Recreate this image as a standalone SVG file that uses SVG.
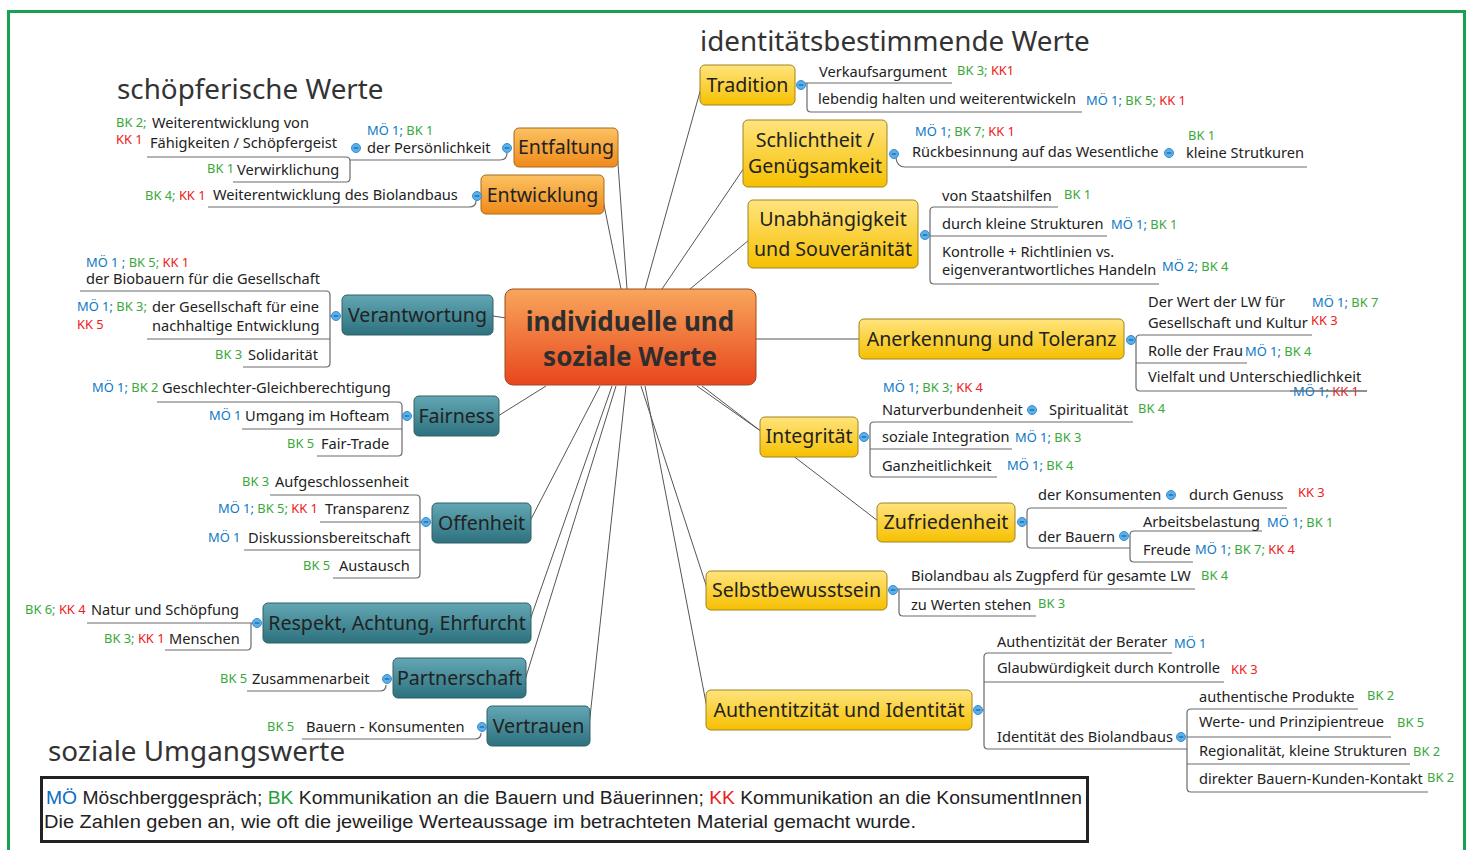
<svg xmlns="http://www.w3.org/2000/svg" width="1472" height="850" viewBox="0 0 1472 850">
<style>
.t{font-family:"Noto Sans",sans-serif;font-size:14.6px;fill:#222}
.l{font-family:"Noto Sans",sans-serif;font-size:12.9px}
.b{fill:#0a78c8}.g{fill:#3aa83a}.r{fill:#ee2020}
.n{font-family:"Noto Sans",sans-serif;font-size:19.6px;fill:#222;text-anchor:middle}
.h{font-family:"Noto Sans",sans-serif;font-size:27.8px;fill:#333}
.ln{fill:none;stroke:#6a6a6a;stroke-width:1.2}
.cn{fill:none;stroke:#555;stroke-width:1}
.yb{fill:url(#gy);stroke:#a08420;stroke-width:1}
.tb{fill:url(#gt);stroke:#355f66;stroke-width:1}
.ob{fill:url(#go);stroke:#a86a20;stroke-width:1}
.lg{font-family:"Liberation Sans",Arial,sans-serif;font-size:19.2px;fill:#222}
</style>
<defs>
<linearGradient id="gy" x1="0" y1="0" x2="0" y2="1"><stop offset="0" stop-color="#ffe47e"/><stop offset="1" stop-color="#f6c000"/></linearGradient>
<linearGradient id="gt" x1="0" y1="0" x2="0" y2="1"><stop offset="0" stop-color="#62a7b3"/><stop offset="1" stop-color="#2c717d"/></linearGradient>
<linearGradient id="go" x1="0" y1="0" x2="0" y2="1"><stop offset="0" stop-color="#fcc262"/><stop offset="1" stop-color="#ef8a1a"/></linearGradient>
<linearGradient id="gc" x1="0" y1="0" x2="0" y2="1"><stop offset="0" stop-color="#f8a65c"/><stop offset="1" stop-color="#e8461c"/></linearGradient>
<g id="dot"><circle r="4.5" fill="#5ab0ea" stroke="#3a8ccc" stroke-width="1"/><path d="M-2.3,0H2.3" stroke="#1d5f9c" stroke-width="1.2"/></g>
</defs>
<rect x="8.5" y="11.5" width="1456" height="860" fill="#fff" stroke="#1aa050" stroke-width="3"/>

<g id="titles">
<text class="h" x="700" y="51">identitätsbestimmende Werte</text>
<text class="h" x="117" y="99">schöpferische Werte</text>
<text class="h" x="48" y="761">soziale Umgangswerte</text>
</g>

<g id="connectors">
<path class="cn" d="M627,289L617,150M621,289L603,200M645,289L701,88M662,289L744,168M690,289L749,240M493,316L506,318M756,339L860,339M546,386L498,416M697,386L762,432M702,386L878,521M600,386L530,521M612,386L530,620M616,386L525,680M626,386L589,726M641,386L707,588M645,386L707,708"/>
<path class="ln" d="M147,157H346Q350,157 350,161V178Q350,182 346,182H233M350,160H500Q507,160 507,153"/>
<path class="ln" d="M208,207H469Q476,207 476,201"/>
<path class="ln" d="M80,291H326Q330,291 330,295V363Q330,367 326,367H243M147,339H330M330,316H333"/>
<path class="ln" d="M157,402H398Q402,402 402,406V452Q402,456 398,456H317M242,429H402M402,416H404"/>
<path class="ln" d="M270,495H416Q420,495 420,499V574Q420,578 416,578H333M320,522H422M244,550H420"/>
<path class="ln" d="M87,623H253M251,623V646Q251,650 247,650H165"/>
<path class="ln" d="M247,691H380Q386,691 386,685"/>
<path class="ln" d="M302,739H475Q481,739 481,733"/>
<path class="ln" d="M805,83H952M807,83V108Q807,112 811,112H1082"/>
<path class="ln" d="M896,158Q897,167 905,167H1307"/>
<path class="ln" d="M1058,207H934Q930,207 930,211V280Q930,284 934,284H1159M930,236H1107M926,235H930"/>
<path class="ln" d="M1312,335H1140Q1136,335 1136,339V387Q1136,391 1140,391H1367M1136,363H1247"/>
<path class="ln" d="M1133,422H874Q870,422 870,426V473Q870,477 874,477H997M870,449H1012"/>
<path class="ln" d="M1287,508H1031Q1027,508 1027,512V544Q1027,548 1031,548H1130M1262,531H1134Q1130,531 1130,535V558Q1130,562 1134,562H1193"/>
<path class="ln" d="M893,589H1195M899,589V612Q899,616 903,616H1036"/>
<path class="ln" d="M1172,653H988Q984,653 984,657V745Q984,749 988,749H1187M984,682H1224M978,710H984"/>
<path class="ln" d="M1358,709H1191Q1187,709 1187,713V788Q1187,792 1191,792H1428M1187,737H1391M1187,764H1410"/>
</g>

<g id="center">
<rect x="505" y="289" width="251" height="96" rx="8" fill="url(#gc)" stroke="#9c4a22" stroke-width="1"/>
<text x="630" y="331" style="font-family:'Noto Sans',sans-serif;font-size:26px;font-weight:bold;fill:#2e2e2e;text-anchor:middle">individuelle und</text>
<text x="630" y="366" style="font-family:'Noto Sans',sans-serif;font-size:26px;font-weight:bold;fill:#2e2e2e;text-anchor:middle">soziale Werte</text>
</g>

<g id="entfaltung">
<rect class="ob" x="514" y="128" width="104" height="39" rx="5"/>
<text class="n" x="566" y="154">Entfaltung</text>
<use href="#dot" x="507" y="148"/>
<use href="#dot" x="356" y="148"/>
<text class="l" x="367" y="135"><tspan class="b">MÖ 1;</tspan><tspan class="g"> BK 1</tspan></text>
<text class="t" x="367" y="153">der Persönlichkeit</text>
<text class="l g" x="116" y="127">BK 2;</text>
<text class="t" x="152" y="128">Weiterentwicklung von</text>
<text class="l r" x="116" y="144">KK 1</text>
<text class="t" x="150" y="148">Fähigkeiten / Schöpfergeist</text>
<text class="l g" x="207" y="173">BK 1</text>
<text class="t" x="237" y="175">Verwirklichung</text>
</g>

<g id="entwicklung">
<rect class="ob" x="481" y="175" width="123" height="39" rx="5"/>
<text class="n" x="542.5" y="201.5">Entwicklung</text>
<use href="#dot" x="477" y="196"/>
<text class="l" x="145" y="200"><tspan class="g">BK 4; </tspan><tspan class="r">KK 1</tspan></text>
<text class="t" x="213" y="200">Weiterentwicklung des Biolandbaus</text>
</g>

<g id="verantwortung">
<rect class="tb" x="342" y="295" width="151" height="40" rx="5"/>
<text class="n" x="417.5" y="322">Verantwortung</text>
<use href="#dot" x="336" y="316"/>
<text class="l" x="86" y="267"><tspan class="b">MÖ 1 ; </tspan><tspan class="g">BK 5; </tspan><tspan class="r">KK 1</tspan></text>
<text class="t" x="86" y="284">der Biobauern für die Gesellschaft</text>
<text class="l" x="77" y="311"><tspan class="b">MÖ 1; </tspan><tspan class="g">BK 3;</tspan></text>
<text class="l r" x="77" y="329">KK 5</text>
<text class="t" x="152" y="312">der Gesellschaft für eine</text>
<text class="t" x="152" y="331">nachhaltige Entwicklung</text>
<text class="l g" x="215" y="359">BK 3</text>
<text class="t" x="248" y="360">Solidarität</text>
</g>

<g id="fairness">
<rect class="tb" x="414" y="396" width="85" height="40" rx="5"/>
<text class="n" x="456.5" y="423">Fairness</text>
<use href="#dot" x="407" y="416"/>
<text class="l" x="92" y="392"><tspan class="b">MÖ 1; </tspan><tspan class="g">BK 2</tspan></text>
<text class="t" x="162" y="393">Geschlechter-Gleichberechtigung</text>
<text class="l b" x="209" y="420">MÖ 1</text>
<text class="t" x="245" y="421">Umgang im Hofteam</text>
<text class="l g" x="287" y="448">BK 5</text>
<text class="t" x="321" y="449">Fair-Trade</text>
</g>

<g id="offenheit">
<rect class="tb" x="432" y="503" width="99" height="40" rx="5"/>
<text class="n" x="481.5" y="530">Offenheit</text>
<use href="#dot" x="426" y="522"/>
<text class="l g" x="242" y="486">BK 3</text>
<text class="t" x="275" y="487">Aufgeschlossenheit</text>
<text class="l" x="218" y="513"><tspan class="b">MÖ 1; </tspan><tspan class="g">BK 5; </tspan><tspan class="r">KK 1</tspan></text>
<text class="t" x="325" y="514">Transparenz</text>
<text class="l b" x="208" y="542">MÖ 1</text>
<text class="t" x="248" y="543">Diskussionsbereitschaft</text>
<text class="l g" x="303" y="570">BK 5</text>
<text class="t" x="339" y="571">Austausch</text>
</g>

<g id="respekt">
<rect class="tb" x="263" y="603" width="268" height="40" rx="5"/>
<text class="n" x="397" y="630">Respekt, Achtung, Ehrfurcht</text>
<use href="#dot" x="257" y="623"/>
<text class="l" x="25" y="614"><tspan class="g">BK 6; </tspan><tspan class="r">KK 4</tspan></text>
<text class="t" x="91" y="615">Natur und Schöpfung</text>
<text class="l" x="104" y="643"><tspan class="g">BK 3; </tspan><tspan class="r">KK 1</tspan></text>
<text class="t" x="169" y="644">Menschen</text>
</g>

<g id="partnerschaft">
<rect class="tb" x="393" y="658" width="133" height="40" rx="5"/>
<text class="n" x="459.5" y="685">Partnerschaft</text>
<use href="#dot" x="387" y="679"/>
<text class="l g" x="220" y="683">BK 5</text>
<text class="t" x="252" y="684">Zusammenarbeit</text>
</g>

<g id="vertrauen">
<rect class="tb" x="487" y="706" width="103" height="40" rx="5"/>
<text class="n" x="538.5" y="733">Vertrauen</text>
<use href="#dot" x="482" y="727"/>
<text class="l g" x="267" y="731">BK 5</text>
<text class="t" x="306" y="732">Bauern - Konsumenten</text>
</g>

<g id="tradition">
<rect class="yb" x="700" y="65" width="95" height="40" rx="5"/>
<text class="n" x="747.5" y="92">Tradition</text>
<use href="#dot" x="801" y="85"/>
<text class="t" x="819" y="77">Verkaufsargument</text>
<text class="l" x="957" y="75"><tspan class="g">BK 3; </tspan><tspan class="r">KK1</tspan></text>
<text class="t" x="818" y="104">lebendig halten und weiterentwickeln</text>
<text class="l" x="1086" y="105"><tspan class="b">MÖ 1; </tspan><tspan class="g">BK 5; </tspan><tspan class="r">KK 1</tspan></text>
</g>

<g id="schlichtheit">
<rect class="yb" x="743" y="120" width="144" height="67" rx="5"/>
<text class="n" x="815" y="147">Schlichtheit /</text>
<text class="n" x="815" y="173">Genügsamkeit</text>
<use href="#dot" x="894" y="154"/>
<text class="l" x="915" y="136"><tspan class="b">MÖ 1; </tspan><tspan class="g">BK 7; </tspan><tspan class="r">KK 1</tspan></text>
<text class="t" x="912" y="157">Rückbesinnung auf das Wesentliche</text>
<use href="#dot" x="1169" y="153"/>
<text class="l g" x="1188" y="140">BK 1</text>
<text class="t" x="1186" y="158">kleine Strutkuren</text>
</g>

<g id="unabhaengigkeit">
<rect class="yb" x="748" y="200" width="170" height="68" rx="5"/>
<text class="n" x="833" y="226">Unabhängigkeit</text>
<text class="n" x="833" y="256">und Souveränität</text>
<use href="#dot" x="925" y="235"/>
<text class="t" x="942" y="201">von Staatshilfen</text>
<text class="l g" x="1064" y="199">BK 1</text>
<text class="t" x="942" y="229">durch kleine Strukturen</text>
<text class="l" x="1111" y="229"><tspan class="b">MÖ 1; </tspan><tspan class="g">BK 1</tspan></text>
<text class="t" x="942" y="257">Kontrolle + Richtlinien vs.</text>
<text class="t" x="942" y="275">eigenverantwortliches Handeln</text>
<text class="l" x="1162" y="271"><tspan class="b">MÖ 2; </tspan><tspan class="g">BK 4</tspan></text>
</g>

<g id="anerkennung">
<rect class="yb" x="859" y="319" width="265" height="40" rx="5"/>
<text class="n" x="991.5" y="346">Anerkennung und Toleranz</text>
<use href="#dot" x="1131" y="340"/>
<text class="t" x="1148" y="307">Der Wert der LW für</text>
<text class="t" x="1148" y="328">Gesellschaft und Kultur</text>
<text class="l" x="1312" y="307"><tspan class="b">MÖ 1; </tspan><tspan class="g">BK 7</tspan></text>
<text class="l r" x="1311" y="325">KK 3</text>
<text class="t" x="1148" y="356">Rolle der Frau</text>
<text class="l" x="1245" y="356"><tspan class="b">MÖ 1; </tspan><tspan class="g">BK 4</tspan></text>
<text class="t" x="1148" y="382">Vielfalt und Unterschiedlichkeit</text>
<text class="l" x="1293" y="396"><tspan class="b">MÖ 1; </tspan><tspan class="r">KK 1</tspan></text>
<path class="ln" d="M1290,391H1367"/>
</g>

<g id="integritaet">
<rect class="yb" x="760" y="417" width="98" height="40" rx="5"/>
<text class="n" x="809" y="443">Integrität</text>
<use href="#dot" x="864" y="437"/>
<text class="l" x="883" y="392"><tspan class="b">MÖ 1; </tspan><tspan class="g">BK 3; </tspan><tspan class="r">KK 4</tspan></text>
<text class="t" x="882" y="415">Naturverbundenheit</text>
<use href="#dot" x="1032" y="410"/>
<text class="t" x="1049" y="415">Spiritualität</text>
<text class="l g" x="1138" y="413">BK 4</text>
<text class="t" x="882" y="442">soziale Integration</text>
<text class="l" x="1015" y="442"><tspan class="b">MÖ 1; </tspan><tspan class="g">BK 3</tspan></text>
<text class="t" x="882" y="471">Ganzheitlichkeit</text>
<text class="l" x="1007" y="470"><tspan class="b">MÖ 1; </tspan><tspan class="g">BK 4</tspan></text>
</g>

<g id="zufriedenheit">
<rect class="yb" x="877" y="503" width="138" height="39" rx="5"/>
<text class="n" x="946" y="529">Zufriedenheit</text>
<use href="#dot" x="1022" y="522"/>
<text class="t" x="1038" y="500">der Konsumenten</text>
<use href="#dot" x="1171" y="495"/>
<text class="t" x="1189" y="500">durch Genuss</text>
<text class="l r" x="1298" y="497">KK 3</text>
<text class="t" x="1038" y="542">der Bauern</text>
<use href="#dot" x="1124" y="536"/>
<text class="t" x="1143" y="527">Arbeitsbelastung</text>
<text class="l" x="1267" y="527"><tspan class="b">MÖ 1; </tspan><tspan class="g">BK 1</tspan></text>
<text class="t" x="1143" y="555">Freude</text>
<text class="l" x="1195" y="554"><tspan class="b">MÖ 1; </tspan><tspan class="g">BK 7; </tspan><tspan class="r">KK 4</tspan></text>
</g>

<g id="selbstbewusstsein">
<rect class="yb" x="706" y="571" width="181" height="39" rx="5"/>
<text class="n" x="796.5" y="597">Selbstbewusstsein</text>
<use href="#dot" x="893" y="590"/>
<text class="t" x="911" y="581">Biolandbau als Zugpferd für gesamte LW</text>
<text class="l g" x="1201" y="580">BK 4</text>
<text class="t" x="911" y="610">zu Werten stehen</text>
<text class="l g" x="1038" y="608">BK 3</text>
</g>

<g id="authentizitaet">
<rect class="yb" x="706" y="690" width="266" height="40" rx="5"/>
<text class="n" x="839" y="717">Authentitzität und Identität</text>
<use href="#dot" x="978" y="710"/>
<text class="t" x="997" y="647">Authentizität der Berater</text>
<text class="l b" x="1174" y="648">MÖ 1</text>
<text class="t" x="997" y="673">Glaubwürdigkeit durch Kontrolle</text>
<text class="l r" x="1231" y="674">KK 3</text>
<text class="t" x="997" y="742">Identität des Biolandbaus</text>
<use href="#dot" x="1181" y="737"/>
<text class="t" x="1199" y="702">authentische Produkte</text>
<text class="l g" x="1367" y="700">BK 2</text>
<text class="t" x="1199" y="727">Werte- und Prinzipientreue</text>
<text class="l g" x="1397" y="727">BK 5</text>
<text class="t" x="1199" y="756">Regionalität, kleine Strukturen</text>
<text class="l g" x="1413" y="756">BK 2</text>
<text class="t" x="1199" y="784">direkter Bauern-Kunden-Kontakt</text>
<text class="l g" x="1427" y="782">BK 2</text>
</g>

<g id="legend">
<rect x="41.5" y="777.5" width="1046" height="64" fill="#fff" stroke="#222" stroke-width="3"/>
<text class="lg" x="46" y="804" textLength="1036" lengthAdjust="spacingAndGlyphs"><tspan fill="#0a6cc0">MÖ</tspan> Möschberggespräch; <tspan fill="#1f9e3a">BK</tspan> Kommunikation an die Bauern und Bäuerinnen; <tspan fill="#e82020">KK</tspan> Kommunikation an die KonsumentInnen</text>
<text class="lg" x="44" y="828" textLength="872" lengthAdjust="spacingAndGlyphs">Die Zahlen geben an, wie oft die jeweilige Werteaussage im betrachteten Material gemacht wurde.</text>
</g>
</svg>
